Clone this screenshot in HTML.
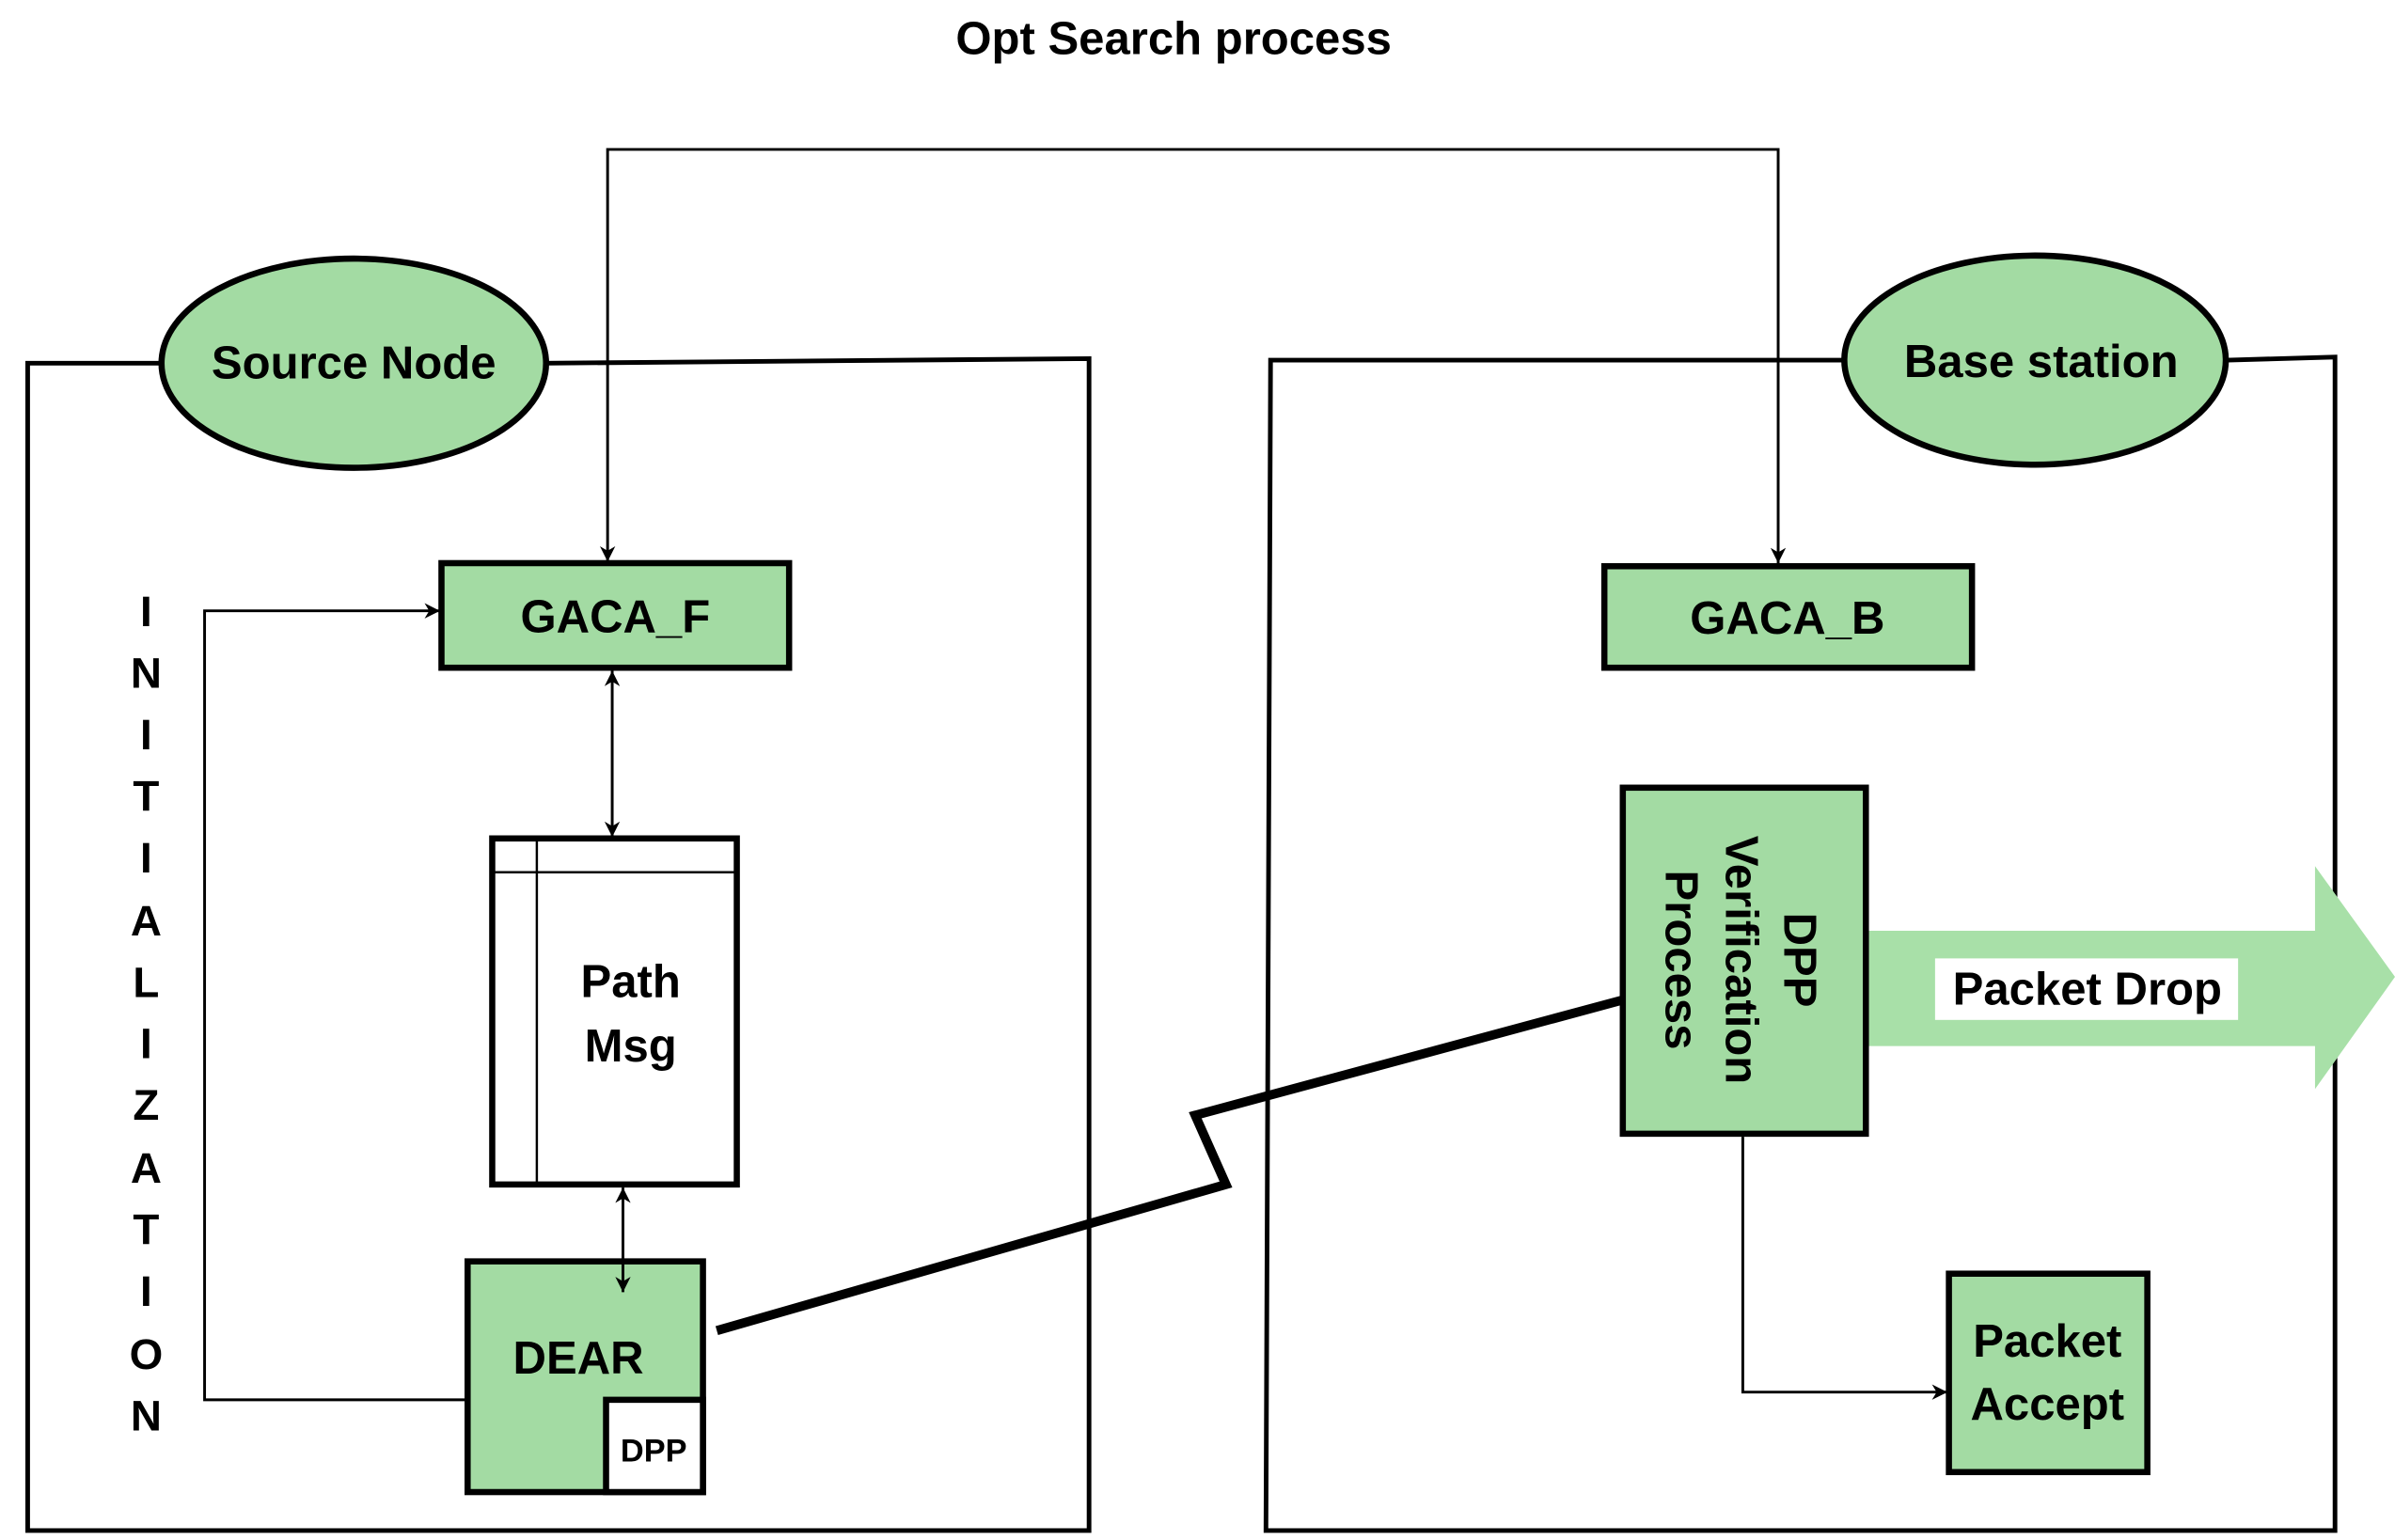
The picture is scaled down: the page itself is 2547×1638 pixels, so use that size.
<!DOCTYPE html>
<html><head><style>html,body{margin:0;padding:0;background:#fff}svg{display:block}</style></head>
<body>
<svg width="2547" height="1638" viewBox="0 0 1557 1001" xmlns="http://www.w3.org/2000/svg" font-family="Liberation Sans, Arial, sans-serif" font-weight="bold">
<defs>
<marker id="a" viewBox="0 0 10 10" refX="10" refY="5" markerWidth="10" markerHeight="10" markerUnits="userSpaceOnUse" orient="auto-start-reverse"><path d="M0,0 L10,5 L0,10 L3,5 z" fill="#000"/></marker>
</defs>
<rect width="1557" height="1001" fill="#fff"/>
<text x="763" y="35" font-size="30" text-anchor="middle">Opt Search process</text>
<g fill="none" stroke="#000" stroke-width="3">
<path d="M105,236 L18,236 L18,995 L708,995 L708,233 L355,236"/>
<path d="M1200,234 L826,234 L823,995 L1518,995 L1518,232 L1448,234"/>
</g>
<ellipse cx="230" cy="236" rx="125" ry="68" fill="#a3dba3" stroke="#000" stroke-width="4"/>
<text x="230" y="246" font-size="30" text-anchor="middle">Source Node</text>
<ellipse cx="1323" cy="234" rx="124" ry="68" fill="#a3dba3" stroke="#000" stroke-width="4"/>
<text x="1327" y="245" font-size="30" text-anchor="middle">Base station</text>
<rect x="287" y="366" width="226" height="68" fill="#a3dba3" stroke="#000" stroke-width="4"/>
<text x="400" y="411" font-size="30" text-anchor="middle">GACA_F</text>
<rect x="1043" y="368" width="239" height="66" fill="#a3dba3" stroke="#000" stroke-width="4"/>
<text x="1162" y="412" font-size="30" text-anchor="middle">GACA_B</text>
<rect x="320" y="545" width="159" height="225" fill="#fff" stroke="#000" stroke-width="4"/>
<path d="M320,567 L479,567 M349,545 L349,770" stroke="#000" stroke-width="1.5"/>
<text x="410" y="648" font-size="30" text-anchor="middle">Path</text>
<text x="410" y="690" font-size="30" text-anchor="middle">Msg</text>
<rect x="304" y="820" width="153" height="150" fill="#a3dba3" stroke="#000" stroke-width="4"/>
<text x="376" y="893" font-size="30" text-anchor="middle">DEAR</text>
<rect x="394" y="910" width="63" height="60" fill="#fff" stroke="#000" stroke-width="4"/>
<text x="425" y="950" font-size="21" text-anchor="middle">DPP</text>
<g font-size="28" text-anchor="middle">
<text x="95" y="407">I</text><text x="95" y="447">N</text><text x="95" y="487">I</text><text x="95" y="527">T</text><text x="95" y="567">I</text><text x="95" y="608">A</text><text x="95" y="648">L</text><text x="95" y="688">I</text><text x="95" y="728">Z</text><text x="95" y="769">A</text><text x="95" y="809">T</text><text x="95" y="849">I</text><text x="95" y="890">O</text><text x="95" y="930">N</text>
</g>
<path d="M466,865 L797,770 L777,725 L1055,650" fill="none" stroke="#000" stroke-width="6"/>
<path d="M1213,605 L1505,605 L1505,563 L1557,635 L1505,708 L1505,680 L1213,680 z" fill="#a8e0a8"/>
<rect x="1258" y="623" width="197" height="40" fill="#fff"/>
<text x="1357" y="653" font-size="30" text-anchor="middle">Packet Drop</text>
<rect x="1055" y="512" width="158" height="225" fill="#a3dba3" stroke="#000" stroke-width="4"/>
<g font-size="30" text-anchor="middle">
<text transform="translate(1160,624) rotate(90)">DPP</text>
<text transform="translate(1122,624) rotate(90)">Verification</text>
<text transform="translate(1083,624) rotate(90)">Process</text>
</g>
<rect x="1267" y="828" width="129" height="129" fill="#a3dba3" stroke="#000" stroke-width="4"/>
<text x="1331" y="882" font-size="30" text-anchor="middle">Packet</text>
<text x="1331" y="923" font-size="30" text-anchor="middle">Accept</text>
<g fill="none" stroke="#000" stroke-width="1.8">
<path d="M395,365 L395,97 L1156,97 L1156,366" marker-start="url(#a)" marker-end="url(#a)"/>
<path d="M398,436 L398,544" marker-start="url(#a)" marker-end="url(#a)"/>
<path d="M405,772 L405,840" marker-start="url(#a)" marker-end="url(#a)"/>
<path d="M302,910 L133,910 L133,397 L286,397" marker-end="url(#a)"/>
<path d="M1133,739 L1133,905 L1266,905" marker-end="url(#a)"/>
</g>
</svg>
</body></html>
